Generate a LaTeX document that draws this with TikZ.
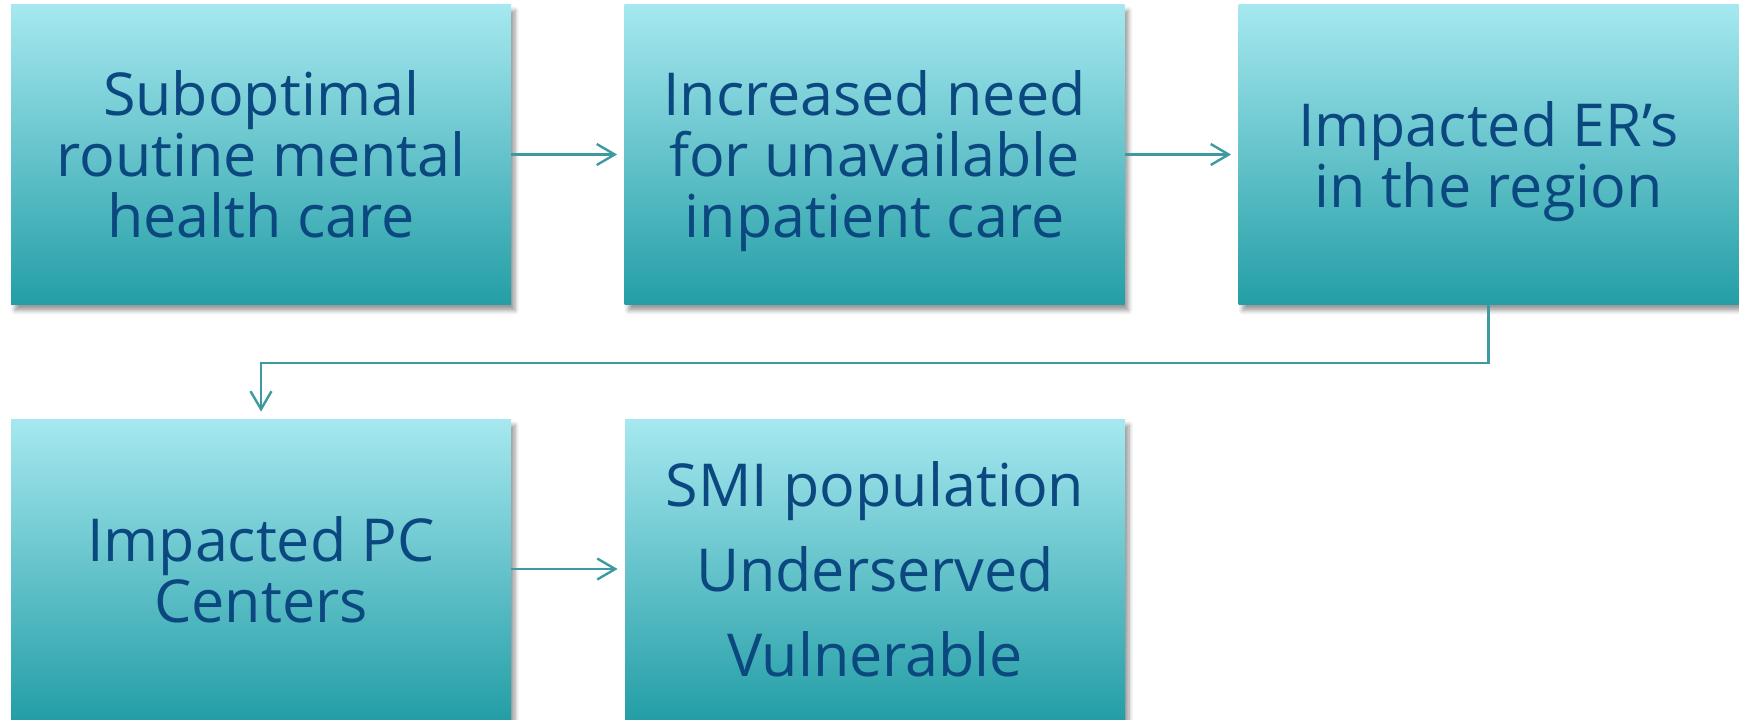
\documentclass[tikz,border=0pt]{standalone}
\usepackage{fontspec}
\setmainfont{Open Sans}
\usetikzlibrary{arrows.meta,shadows.blur}
\definecolor{txt}{RGB}{12,72,128}
\definecolor{topc}{RGB}{166,232,240}
\definecolor{midc}{RGB}{128,206,216}
\definecolor{botc}{RGB}{36,158,166}
\definecolor{arr}{RGB}{60,154,160}
\begin{document}
\begin{tikzpicture}[x=0.5pt,y=-0.5pt,
 box/.style={rectangle, minimum width=250pt, minimum height=150pt, inner sep=0pt,
   top color=topc, middle color=midc, bottom color=botc, text=txt, align=center,
   font=\fontsize{29.6}{30.5}\selectfont, text depth=0pt,
   blur shadow={shadow xshift=2pt, shadow yshift=-3pt, shadow blur steps=6, shadow opacity=40}},
 link/.style={draw=arr, line width=1.2pt, -{Straight Barb[length=9pt,width=10.5pt]}, shorten >=3.5pt}]
\useasboundingbox (0,0) rectangle (1739,719);
\node[box] (b1) at (261,154.5) {Suboptimal\\routine mental\\health care};
\node[box] (b2) at (874.5,154.5) {Increased need\\for unavailable\\inpatient care};
\node[box] (b3) at (1488.5,154.5) {Impacted ER’s\\in the region};
\node[box] (b4) at (261,569) {Impacted PC\\Centers};
\node[box] (b5) at (875,569) {SMI population\\[12pt]Underserved\\[12pt]Vulnerable};
\draw[link] (b1.east) -- (b2.west);
\draw[link] (b2.east) -- (b3.west);
\draw[link] (b3.south) -- ++(0,58) -| (b4.north);
\draw[link] (b4.east) -- (b5.west);
\end{tikzpicture}
\end{document}
